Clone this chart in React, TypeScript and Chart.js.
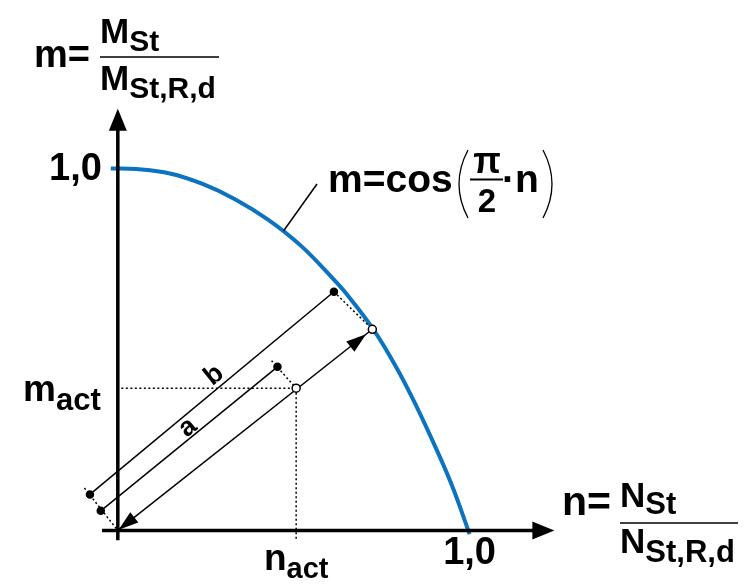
import React, { useEffect, useRef } from "react";
import { Chart, registerables } from "chart.js";

Chart.register(...registerables);

// Interaction curve m = f(n)
const curveN = [-0.02, 0.053, 0.148, 0.241, 0.333, 0.428, 0.521, 0.613, 0.652, 0.726, 0.792, 0.848, 0.904, 0.95, 1.0];
const curveM = [1.0, 0.998, 0.986, 0.957, 0.915, 0.858, 0.786, 0.694, 0.651, 0.556, 0.45, 0.345, 0.228, 0.124, -0.01];

// Actual point and its projection on the curve
const actN = [0.507];
const actM = [0.393];
const curvePtN = [0.7235];
const curvePtM = [0.5556];

// Ray from origin to the curve point (double arrow)
const rayN = [0, 0.7235];
const rayM = [0, 0.5556];

// Dimension lines a and b
const dimAN = [-0.0485, 0.4538];
const dimAM = [0.0542, 0.4518];
const dimBN = [-0.0793, 0.6143];
const dimBM = [0.0995, 0.6593];

// Dotted helper lines
const dotOriginN = [-0.095, 0];
const dotOriginM = [0.117, 0];
const dotBTopN = [0.6143, 0.7235];
const dotBTopM = [0.6593, 0.5556];
const dotATopN = [0.437, 0.507];
const dotATopM = [0.469, 0.393];
const dotHorN = [0.01, 0.507];
const dotHorM = [0.393, 0.393];
const dotVerN = [0.507, 0.507];
const dotVerM = [0.393, -0.027];

// Axes extents
const xAxisN = [-0.045, 1.241];
const yAxisM = [-0.027, 1.165];

// Tick labels
const xTickValue = [1.0];
const xTickLabel = ["1,0"];
const yTickValue = [1.0];
const yTickLabel = ["1,0"];

// Label positions for a and b
const labelA = [0.1989, 0.2846];
const labelB = [0.2737, 0.4282];

// Point where the formula's leader line touches the curve
const leaderN = [0.471];
const leaderM = [0.827];

const FONT = '"Liberation Sans", Arial, Helvetica, sans-serif';
const BLUE = "#0b73bf";

const pts = (xs: number[], ys: number[]) => xs.map((x, i) => ({ x, y: ys[i] }));

const lineDs = (xs: number[], ys: number[], extra: any = {}) => ({
  data: pts(xs, ys),
  showLine: true,
  borderColor: "#000",
  borderWidth: 1.5,
  pointRadius: 0,
  fill: false,
  ...extra,
});

function App() {
  const ref = useRef<HTMLCanvasElement | null>(null);

  useEffect(() => {
    document.body.style.margin = "0";
    const canvas = ref.current;
    if (!canvas) return;

    const arrowHead = (ctx: CanvasRenderingContext2D, tx: number, ty: number, dx: number, dy: number, len: number, half: number) => {
      const l = Math.hypot(dx, dy);
      const ux = dx / l, uy = dy / l;
      const bx = tx - ux * len, by = ty - uy * len;
      ctx.beginPath();
      ctx.moveTo(tx, ty);
      ctx.lineTo(bx - uy * half, by + ux * half);
      ctx.lineTo(bx + uy * half, by - ux * half);
      ctx.closePath();
      ctx.fill();
    };

    const text = (ctx: CanvasRenderingContext2D, s: string, x: number, y: number, size: number, align: CanvasTextAlign = "left") => {
      ctx.font = `bold ${size}px ${FONT}`;
      ctx.textAlign = align;
      ctx.textBaseline = "alphabetic";
      ctx.fillText(s, x, y);
      return ctx.measureText(s).width;
    };

    const width = (ctx: CanvasRenderingContext2D, s: string, size: number) => {
      ctx.font = `bold ${size}px ${FONT}`;
      return ctx.measureText(s).width;
    };

    const sub = (ctx: CanvasRenderingContext2D, main: string, s: string, x: number, y: number, mainSize: number, subSize: number, drop: number) => {
      const w = text(ctx, main, x, y, mainSize);
      const w2 = text(ctx, s, x + w, y + drop, subSize);
      return w + w2;
    };

    const deco = {
      id: "deco",
      afterDraw(chart: any) {
        const ctx: CanvasRenderingContext2D = chart.ctx;
        const xs = chart.scales.x;
        const ys = chart.scales.y;
        const px = (v: number) => xs.getPixelForValue(v);
        const py = (v: number) => ys.getPixelForValue(v);
        ctx.save();
        ctx.fillStyle = "#000";
        ctx.strokeStyle = "#000";

        // axes
        ctx.lineWidth = 3.5;
        ctx.lineCap = "butt";
        ctx.beginPath();
        ctx.moveTo(px(0), py(yAxisM[0]));
        ctx.lineTo(px(0), py(yAxisM[1]) + 15);
        ctx.moveTo(px(xAxisN[0]), py(0));
        ctx.lineTo(px(xAxisN[1]) - 15, py(0));
        ctx.stroke();
        arrowHead(ctx, px(0), py(yAxisM[1]), 0, -1, 22, 9);
        arrowHead(ctx, px(xAxisN[1]), py(0), 1, 0, 22, 9);

        // ray arrowheads
        const ox = px(rayN[0]), oy = py(rayM[0]);
        const ex = px(rayN[1]), ey = py(rayM[1]);
        const dx = ex - ox, dy = ey - oy;
        const L = Math.hypot(dx, dy);
        const ux = dx / L, uy = dy / L;
        arrowHead(ctx, ox + ux * 1, oy + uy * 1, -dx, -dy, 20, 6.5);
        arrowHead(ctx, ex - ux * 8, ey - uy * 8, dx, dy, 20, 6.5);

        // tick labels
        text(ctx, yTickLabel[0], px(0) - 16, py(yTickValue[0]) + 12, 38, "right");
        text(ctx, xTickLabel[0], px(xTickValue[0]), py(0) + 34, 38, "center");

        // a / b labels
        const ang = Math.atan2(dy, dx);
        const lab = (s: string, p: number[]) => {
          ctx.save();
          ctx.translate(px(p[0]), py(p[1]));
          ctx.rotate(ang);
          ctx.font = `bold 27px ${FONT}`;
          ctx.textAlign = "center";
          ctx.textBaseline = "middle";
          ctx.fillText(s, 0, 0);
          ctx.restore();
        };
        lab("a", labelA);
        lab("b", labelB);

        // m_act, n_act
        sub(ctx, "m", "act", 23, py(actM[0]) + 13, 37, 31, 9);
        const wn = width(ctx, "n", 37);
        const wa = width(ctx, "act", 29);
        sub(ctx, "n", "act", px(actN[0]) - (wn + wa) / 2, py(0) + 40, 37, 29, 8);

        // y-axis title
        text(ctx, "m=", 34, 67, 38);
        sub(ctx, "M", "St", 100, 43, 35, 30, 8);
        ctx.lineWidth = 1.5;
        ctx.beginPath();
        ctx.moveTo(100, 57);
        ctx.lineTo(219, 57);
        ctx.stroke();
        sub(ctx, "M", "St,R,d", 100, 90, 35, 30, 8);

        // x-axis title
        text(ctx, "n=", 562, 515, 41);
        sub(ctx, "N", "St", 620, 507, 35, 31, 7);
        ctx.beginPath();
        ctx.moveTo(620, 523);
        ctx.lineTo(738, 523);
        ctx.stroke();
        sub(ctx, "N", "St,R,d", 620, 553, 35, 31, 9);

        // formula label with leader line
        ctx.lineWidth = 1.5;
        ctx.beginPath();
        ctx.moveTo(px(leaderN[0]), py(leaderM[0]));
        ctx.lineTo(317, 184);
        ctx.stroke();
        text(ctx, "m=cos", 328, 192, 39);
        // parentheses
        ctx.lineWidth = 1.3;
        ctx.beginPath();
        ctx.moveTo(468, 150);
        ctx.quadraticCurveTo(450, 184, 468, 218);
        ctx.moveTo(543, 150);
        ctx.quadraticCurveTo(561, 184, 543, 218);
        ctx.stroke();
        text(ctx, "π", 487, 173, 36, "center");
        ctx.lineWidth = 2;
        ctx.beginPath();
        ctx.moveTo(470, 179.5);
        ctx.lineTo(503, 179.5);
        ctx.stroke();
        text(ctx, "2", 487, 212, 33, "center");
        text(ctx, "·n", 502, 192, 39);

        ctx.restore();
      },
    };

    const chart = new Chart(canvas, {
      type: "scatter",
      data: {
        datasets: [
          { data: pts(actN, actM), pointRadius: 4, pointBackgroundColor: "#fff", pointBorderColor: "#000", pointBorderWidth: 1.5, showLine: false, order: 0 },
          { data: pts(curvePtN, curvePtM), pointRadius: 4, pointBackgroundColor: "#fff", pointBorderColor: "#000", pointBorderWidth: 1.5, showLine: false, order: 0 },
          lineDs(dimAN, dimAM, { pointRadius: 3.5, pointBackgroundColor: "#000", pointBorderColor: "#000", order: 1 }),
          lineDs(dimBN, dimBM, { pointRadius: 3.5, pointBackgroundColor: "#000", pointBorderColor: "#000", order: 1 }),
          lineDs(rayN, rayM, { order: 2 }),
          lineDs(dotOriginN, dotOriginM, { borderDash: [2, 2.5], order: 2 }),
          lineDs(dotBTopN, dotBTopM, { borderDash: [2, 2.5], order: 2 }),
          lineDs(dotATopN, dotATopM, { borderDash: [2, 2.5], order: 2 }),
          lineDs(dotHorN, dotHorM, { borderDash: [2, 2.5], order: 2 }),
          lineDs(dotVerN, dotVerM, { borderDash: [2, 2.5], order: 2 }),
          {
            data: pts(curveN, curveM),
            showLine: true,
            borderColor: BLUE,
            borderWidth: 4,
            pointRadius: 0,
            tension: 0.4,
            fill: false,
            order: 3,
          },
        ] as any,
      },
      options: {
        responsive: false,
        animation: false,
        devicePixelRatio: 1,
        layout: { padding: 0 },
        plugins: { legend: { display: false }, tooltip: { enabled: false } },
        events: [],
        scales: {
          x: { type: "linear", display: false, min: -114 / 357, max: -114 / 357 + 748 / 357 },
          y: { type: "linear", display: false, min: 535 / 369 - 585 / 369, max: 535 / 369 },
        },
      },
      plugins: [deco],
    });
    return () => chart.destroy();
  }, []);

  return (
    <div style={{ width: 748, height: 585, background: "#fff" }}>
      <canvas ref={ref} width={748} height={585} style={{ display: "block" }} />
    </div>
  );
}

export default App;
